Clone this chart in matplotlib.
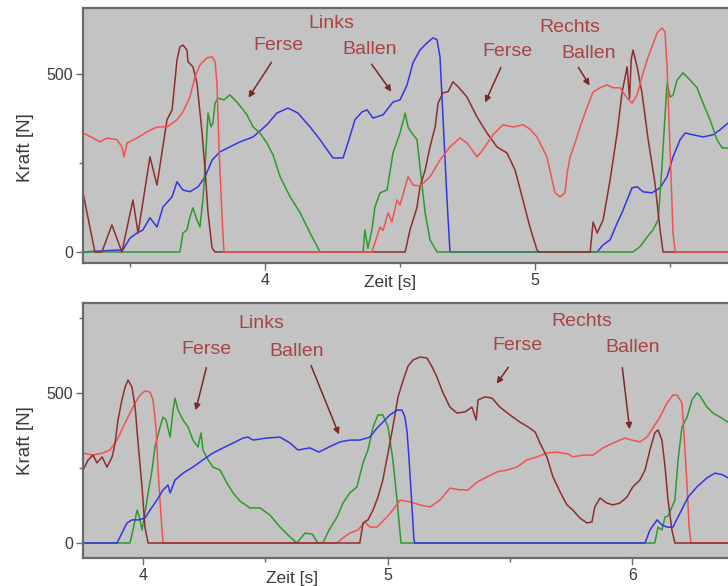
import matplotlib
matplotlib.use("Agg")
import matplotlib.pyplot as plt

plt.rcParams['font.family'] = ['Liberation Sans', 'DejaVu Sans']

# ---------------- data: top panel (time s, force N) ----------------
top_brown_x = [3.326, 3.370, 3.396, 3.433, 3.470, 3.511, 3.530, 3.574, 3.600, 3.637, 3.656, 3.674, 3.685, 3.696,
               3.711, 3.715, 3.733, 3.748, 3.767, 3.778, 3.789, 3.804, 3.815,
               4.519, 4.537, 4.563, 4.574, 4.593, 4.611, 4.630, 4.641, 4.659, 4.678, 4.696, 4.715, 4.748, 4.785,
               4.822, 4.859, 4.896, 4.926, 4.952, 4.981, 5.007, 5.015,
               5.204, 5.215, 5.230, 5.252, 5.278, 5.304, 5.322, 5.341, 5.350, 5.356, 5.363, 5.378, 5.396, 5.419,
               5.444, 5.463, 5.474, 5.760]
top_brown_y = [166, 0, 0, 76, 0, 146, 53, 267, 188, 371, 399, 539, 576, 581,
               567, 534, 520, 475, 334, 230, 110, 11, 0,
               0, 62, 126, 183, 230, 295, 351, 418, 447, 450, 478, 464, 435, 379,
               334, 295, 278, 230, 155, 70, 6, 0,
               0, 84, 53, 90, 202, 334, 447, 520, 430, 540, 567, 520, 447, 315,
               194, 62, 0, 0]

top_red_x = [3.326, 3.363, 3.389, 3.415, 3.452, 3.470, 3.478, 3.489, 3.526, 3.563, 3.600, 3.637, 3.674, 3.696,
             3.722, 3.741, 3.759, 3.785, 3.804, 3.815, 3.822, 3.830, 3.841, 3.848,
             4.396, 4.426, 4.437, 4.456, 4.470, 4.489, 4.500, 4.519, 4.530, 4.548, 4.574, 4.611, 4.648, 4.685,
             4.722, 4.748, 4.785, 4.807, 4.844, 4.881, 4.919, 4.956, 4.981, 5.007, 5.044, 5.063, 5.074, 5.093,
             5.111, 5.119, 5.130, 5.148, 5.167, 5.193, 5.215, 5.241, 5.267, 5.289, 5.315, 5.341, 5.359, 5.378,
             5.396, 5.415, 5.433, 5.452, 5.470, 5.481, 5.489, 5.500, 5.511, 5.519, 5.760]
top_red_y = [334, 320, 309, 320, 315, 295, 267, 306, 320, 337, 351, 351, 371, 393,
             435, 492, 525, 545, 548, 534, 475, 287, 98, 0,
             0, 70, 60, 110, 84, 146, 132, 183, 211, 188, 185, 211, 258, 295,
             320, 306, 267, 287, 329, 357, 351, 357, 345, 323, 267, 202, 166, 155,
             166, 222, 267, 306, 351, 407, 449, 461, 469, 461, 461, 432, 418, 441,
             492, 539, 576, 615, 629, 618, 520, 287, 53, 0, 0]

top_blue_x = [3.326, 3.474, 3.500, 3.526, 3.548, 3.574, 3.600, 3.622, 3.656, 3.674, 3.696, 3.722, 3.752, 3.778,
              3.804, 3.833, 3.870, 3.907, 3.956, 4.007, 4.044, 4.085, 4.122, 4.167, 4.204, 4.230, 4.252, 4.289,
              4.307, 4.333, 4.359, 4.378, 4.400, 4.437, 4.474, 4.500, 4.526, 4.548, 4.574, 4.600, 4.622, 4.637,
              4.648, 4.659, 4.674, 4.685,
              5.230, 5.252, 5.278, 5.304, 5.322, 5.341, 5.359, 5.378, 5.400, 5.433, 5.463, 5.489, 5.511, 5.537,
              5.556, 5.585, 5.622, 5.659, 5.685, 5.715, 5.760]
top_blue_y = [0, 6, 39, 53, 62, 96, 70, 126, 155, 197, 174, 169, 183, 211,
              258, 281, 295, 309, 323, 357, 390, 404, 390, 351, 315, 287, 264, 264,
              306, 371, 393, 399, 376, 385, 421, 427, 469, 531, 567, 587, 601, 596,
              548, 379, 146, 0,
              0, 20, 34, 81, 110, 146, 180, 183, 169, 166, 180, 211, 267, 315,
              334, 329, 323, 329, 343, 362, 380]

top_green_x = [3.326, 3.685, 3.696, 3.711, 3.722, 3.733, 3.748, 3.759, 3.770, 3.778, 3.785, 3.789, 3.800, 3.807,
               3.815, 3.826, 3.848, 3.870, 3.896, 3.919, 3.933, 3.956, 3.981, 4.007, 4.030, 4.056, 4.093, 4.130,
               4.167, 4.204,
               4.363, 4.370, 4.381, 4.396, 4.407, 4.426, 4.452, 4.474, 4.500, 4.519, 4.530, 4.544, 4.563, 4.574,
               4.593, 4.611, 4.637,
               5.363, 5.389, 5.415, 5.437, 5.456, 5.470, 5.481, 5.489, 5.500, 5.511, 5.526, 5.548, 5.574, 5.600,
               5.622, 5.648, 5.674, 5.693, 5.715, 5.760]
top_green_y = [0, 0, 53, 62, 98, 124, 90, 70, 146, 239, 334, 390, 351, 362,
               418, 432, 427, 441, 421, 399, 385, 351, 334, 306, 272, 211, 155, 110,
               53, 0,
               0, 62, 10, 62, 126, 166, 174, 278, 334, 390, 350, 334, 315, 239,
               110, 34, 0,
               0, 15, 42, 62, 90, 239, 379, 475, 435, 440, 483, 503, 483, 461,
               418, 371, 315, 292, 292, 292]

# ---------------- data: bottom panel ----------------
bot_brown_x = [3.756, 3.777, 3.797, 3.813, 3.834, 3.854, 3.875, 3.887, 3.899, 3.915, 3.928, 3.940, 3.956, 3.969,
               3.981, 3.997, 4.009, 4.022,
               4.887, 4.900, 4.920, 4.941, 4.961, 4.981, 5.002, 5.022, 5.043, 5.063, 5.084, 5.104, 5.133, 5.161,
               5.182, 5.202, 5.227, 5.255, 5.284, 5.317, 5.345, 5.362, 5.370, 5.398, 5.427, 5.459, 5.500, 5.541,
               5.574, 5.603, 5.623, 5.651, 5.676, 5.704, 5.733, 5.757, 5.786, 5.815, 5.835, 5.847, 5.868, 5.896,
               5.921, 5.949, 5.978, 6.002, 6.031, 6.052, 6.072, 6.092, 6.105, 6.121, 6.134, 6.146, 6.162, 6.174,
               6.440]
bot_brown_y = [243, 277, 293, 267, 287, 253, 287, 333, 410, 477, 520, 543, 520, 453,
               333, 187, 53, 0,
               0, 67, 77, 110, 153, 210, 300, 387, 487, 540, 590, 610, 620, 617,
               587, 553, 500, 453, 433, 437, 453, 410, 477, 487, 483, 453, 427, 403,
               387, 370, 333, 287, 220, 172, 127, 110, 83, 67, 70, 120, 150, 133,
               127, 133, 153, 187, 210, 243, 310, 367, 377, 343, 253, 143, 43, 0,
               0]

bot_red_x = [3.756, 3.797, 3.838, 3.866, 3.895, 3.920, 3.948, 3.969, 3.989, 4.009, 4.030, 4.042, 4.054, 4.062,
             4.075, 4.083,
             4.794, 4.818, 4.846, 4.879, 4.908, 4.928, 4.957, 4.977, 4.998, 5.022, 5.051, 5.092, 5.133, 5.174,
             5.214, 5.255, 5.296, 5.330, 5.366, 5.406, 5.447, 5.488, 5.529, 5.570, 5.611, 5.651, 5.692, 5.737,
             5.757, 5.798, 5.839, 5.880, 5.921, 5.970, 5.998, 6.031, 6.060, 6.084, 6.113, 6.142, 6.166, 6.183,
             6.203, 6.211, 6.224, 6.232, 6.240, 6.440]
bot_red_y = [300, 293, 300, 310, 343, 387, 433, 467, 493, 507, 503, 477, 387, 253,
             87, 0,
             0, 17, 33, 43, 70, 53, 53, 70, 87, 110, 143, 137, 127, 120,
             143, 183, 177, 177, 203, 220, 237, 243, 253, 277, 287, 300, 303, 297,
             287, 293, 293, 317, 333, 350, 343, 337, 353, 383, 420, 467, 493, 493,
             467, 367, 187, 53, 0, 0]

bot_blue_x = [3.756, 3.895, 3.915, 3.936, 3.956, 3.981, 4.009, 4.030, 4.058, 4.083, 4.103, 4.112, 4.132, 4.165,
              4.205, 4.246, 4.287, 4.328, 4.369, 4.410, 4.430, 4.451, 4.508, 4.561, 4.602, 4.634, 4.683, 4.720,
              4.761, 4.806, 4.846, 4.887, 4.928, 4.957, 4.981, 5.010, 5.039, 5.059, 5.071, 5.080, 5.088, 5.100,
              5.108, 5.112,
              6.052, 6.072, 6.101, 6.121, 6.142, 6.166, 6.195, 6.228, 6.264, 6.305, 6.338, 6.370, 6.391, 6.440]
bot_blue_y = [0, 0, 33, 67, 77, 77, 83, 110, 143, 177, 193, 167, 210, 233,
              253, 277, 300, 317, 333, 350, 353, 343, 350, 353, 333, 310, 317, 303,
              320, 337, 343, 343, 353, 383, 403, 427, 443, 443, 420, 370, 280, 120,
              10, 0,
              0, 43, 77, 60, 53, 53, 100, 153, 187, 217, 233, 227, 217, 205]

bot_green_x = [3.756, 3.948, 3.960, 3.977, 3.985, 3.997, 4.009, 4.022, 4.038, 4.050, 4.071, 4.083, 4.095, 4.112,
               4.124, 4.132, 4.144, 4.165, 4.185, 4.205, 4.226, 4.238, 4.246, 4.267, 4.287, 4.316, 4.344, 4.369,
               4.397, 4.438, 4.479, 4.520, 4.561, 4.602, 4.630, 4.663, 4.692, 4.716, 4.737, 4.761, 4.794, 4.818,
               4.846, 4.875, 4.900, 4.920, 4.941, 4.961, 4.981, 5.002, 5.022, 5.039, 5.055,
               6.092, 6.105, 6.121, 6.134, 6.146, 6.162, 6.174, 6.187, 6.203, 6.224, 6.244, 6.264, 6.277, 6.305,
               6.330, 6.358, 6.391, 6.440]
bot_green_y = [0, 0, 43, 110, 90, 43, 100, 167, 243, 320, 387, 420, 410, 353,
               443, 483, 443, 410, 387, 343, 320, 367, 310, 277, 253, 243, 200, 167,
               140, 117, 117, 93, 53, 20, 0, 33, 30, 0, 2, 43, 87, 133,
               167, 187, 267, 310, 387, 427, 427, 387, 277, 143, 0,
               0, 53, 43, 87, 90, 120, 143, 277, 387, 420, 477, 500, 490, 453,
               433, 420, 403, 395]

# annotations: (text, text position px, arrow start px, arrow tip px)  -- top-left pixel coords
top_labels = [("Links", (331, 24)), ("Rechts", (570, 28))]
top_arrows = [("Ferse", (278, 46), (273, 60), (247, 100)),
              ("Ballen", (370, 49), (370, 62), (393, 94)),
              ("Ferse", (507, 52), (502, 65), (484, 105)),
              ("Ballen", (589, 53), (577, 65), (591, 88))]
bot_labels = [("Links", (261, 324)), ("Rechts", (582, 321))]
bot_arrows = [("Ferse", (206, 350), (207, 365), (195, 413)),
              ("Ballen", (297, 352), (310, 363), (340, 437)),
              ("Ferse", (517, 345), (510, 365), (495, 386)),
              ("Ballen", (633, 348), (622, 365), (630, 432))]

W, H = 728, 586
BG = "#c3c3c3"
FRAME = "#6a6a6a"
C_BROWN = "#8e2e2e"
C_RED = "#f25252"
C_BLUE = "#3535e2"
C_GREEN = "#2e9a2e"
TXT = "#a84444"
ARR = "#7a2828"

fig = plt.figure(figsize=(W / 100, H / 100), dpi=100)
fig.patch.set_facecolor("white")


def fpos(px, py):
    return px / W, 1 - py / H


def make_ax(top_px, bot_px, xlim, ylim, xmajor, xminor, ymajor, yminor):
    l, b = fpos(83, bot_px)
    ax = fig.add_axes([l, b, (740 - 83) / W, (bot_px - top_px) / H])
    ax.set_facecolor(BG)
    ax.set_xlim(*xlim)
    ax.set_ylim(*ylim)
    for s in ["top", "bottom", "left", "right"]:
        ax.spines[s].set_color(FRAME)
        ax.spines[s].set_linewidth(1.6)
    ax.set_xticks(xmajor)
    ax.set_xticks(xminor, minor=True)
    ax.set_yticks(ymajor)
    ax.set_yticks(yminor, minor=True)
    ax.tick_params(which="major", length=5, width=1.0, color=FRAME, labelsize=11.5,
                   labelcolor="#3a3a3a", pad=2)
    ax.tick_params(which="minor", length=3, width=1.0, color=FRAME)
    return ax


# ---- top panel
ax1 = make_ax(8, 263, (3.326, 5.759), (-31, 685), [4, 5], [3.5, 4.5, 5.5], [0, 500], [250])
ax1.plot(top_blue_x, top_blue_y, color=C_BLUE, lw=1.1)
ax1.plot(top_green_x, top_green_y, color=C_GREEN, lw=1.1)
ax1.plot(top_brown_x, top_brown_y, color=C_BROWN, lw=1.1)
ax1.plot(top_red_x, top_red_y, color=C_RED, lw=1.1)

# ---- bottom panel
ax2 = make_ax(303, 558, (3.756, 6.44), (-50, 800), [4, 5, 6], [4.5, 5.5], [0, 500], [250, 750])
ax2.plot(bot_green_x, bot_green_y, color=C_GREEN, lw=1.1)
ax2.plot(bot_red_x, bot_red_y, color=C_RED, lw=1.1)
ax2.plot(bot_brown_x, bot_brown_y, color=C_BROWN, lw=1.1)
ax2.plot(bot_blue_x, bot_blue_y, color=C_BLUE, lw=1.1)

# axis labels
for (px, py) in [(25, 148), (25, 441)]:
    fig.text(*fpos(px, py), "Kraft [N]", rotation=90, ha="center", va="center",
             fontsize=13.5, color="#3a3a3a")
for (px, py) in [(390, 283), (292, 578)]:
    fig.text(*fpos(px, py), "Zeit [s]", ha="center", va="center", fontsize=12.5, color="#3a3a3a")

# annotations
for labels, arrows in [(top_labels, top_arrows), (bot_labels, bot_arrows)]:
    for txt, (px, py) in labels:
        fig.text(*fpos(px, py), txt, ha="center", va="center", fontsize=14, color=TXT)
    for txt, (px, py), start, tip in arrows:
        fig.text(*fpos(px, py), txt, ha="center", va="center", fontsize=14, color=TXT)
        fig.add_artist(matplotlib.patches.FancyArrowPatch(
            fpos(*start), fpos(*tip), transform=fig.transFigure,
            arrowstyle="-|>", mutation_scale=9, color=ARR, lw=1.1))

fig.savefig("out.png", dpi=100)
